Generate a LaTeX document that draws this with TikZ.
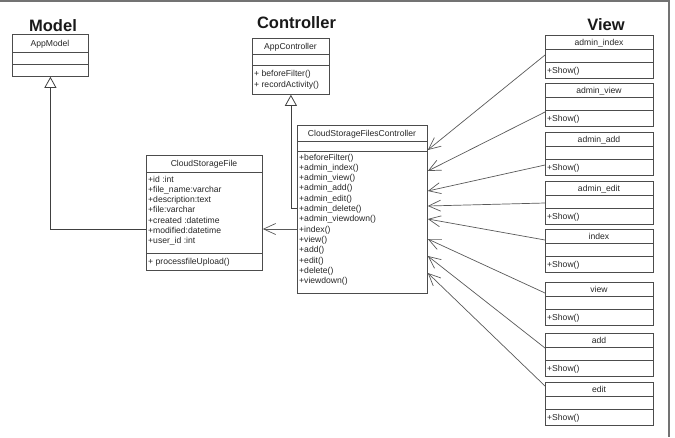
\documentclass[tikz,border=0pt]{standalone}
\usepackage{fontspec}
\setmainfont{Liberation Sans}
\usetikzlibrary{arrows.meta}

\begin{document}
\begin{tikzpicture}[x=1pt, y=-1pt,
  classbox/.style={draw=black!70, line width=0.8pt, anchor=north west, inner sep=0pt},
  member/.style={inner sep=0pt, anchor=base west, text=black!85, font=\fontsize{8.6}{10.3}\selectfont},
  classname/.style={member, anchor=base},
  layer/.style={inner sep=0pt, anchor=base, text=black!90, font=\fontsize{16.5}{18}\selectfont\bfseries},
  sep/.style={draw=black!70, line width=0.8pt},
  gen/.style={draw=black!75, line width=0.8pt, -{Triangle[open, length=11pt, width=12pt]}},
  assoc/.style={draw=black!65, line width=0.7pt, -{Straight Barb[length=12pt, width=11pt]}}]
\useasboundingbox (0,0) rectangle (675,437);
\draw[black!55, line width=1.4pt] (0,1) -| (669,437);

% layer titles
\node[layer] (tmodel) at (53,31.7) {Model};
\node[layer] (tctrl) at (296.5,28.5) {Controller};
\node[layer] (tview) at (606,30.7) {View};

% model
\node[classbox, minimum width=76pt, minimum height=42pt] (appmodel) at (12,34) {};
\draw[sep] (12,52) -- (88,52);
\draw[sep] (12,64) -- (88,64);
\node[classname] (appmodel-n) at (50,46) {AppModel};

% app controller
\node[classbox, minimum width=77pt, minimum height=56pt] (appctrl) at (252,38) {};
\draw[sep] (252,54) -- (329,54);
\draw[sep] (252,65) -- (329,65);
\node[classname] (appctrl-n) at (290.5,49) {AppController};
\node[member] (appctrl-m1) at (254,76) {+ beforeFilter()};
\node[member] (appctrl-m2) at (254,87) {+ recordActivity()};

% cloud storage file
\node[classbox, minimum width=116pt, minimum height=115pt] (csfile) at (146,155) {};
\draw[sep] (146,172) -- (262,172);
\draw[sep] (146,253) -- (262,253);
\node[classname] (csfile-n) at (204,166) {CloudStorageFile};
\foreach \a [count=\i] in {+id :int, +file\_name:varchar, +description:text, +file:varchar,
    +created :datetime, +modified:datetime, +user\_id :int}
  \node[member] (csfile-a\i) at (148,171.7+10.3*\i) {\a};
\node[member] (csfile-m1) at (148,264) {+ processfileUpload()};

% files controller
\node[classbox, minimum width=130pt, minimum height=168pt] (csfc) at (297,125) {};
\draw[sep] (297,141) -- (427,141);
\draw[sep] (297,151) -- (427,151);
\node[classname] (csfc-n) at (362,136) {CloudStorageFilesController};
\foreach \m [count=\i] in {+beforeFilter(), +admin\_index(), +admin\_view(), +admin\_add(),
    +admin\_edit(), +admin\_delete(), +admin\_viewdown(), +index(), +view(), +add(),
    +edit(), +delete(), +viewdown()}
  \node[member] (csfc-m\i) at (299,149.7+10.3*\i) {\m};

\draw[gen] ([yshift=-74pt]csfile.north west) -| (appmodel.south);
\draw[gen] ([yshift=-83pt]csfc.north west) -| (appctrl.south);
\draw[assoc] ([yshift=-104pt]csfc.north west) -- ([yshift=-74pt]csfile.north east);

% views
\foreach \v/\t/\top/\s/\e in {v1/admin\_index/35/20/25, v2/admin\_view/83/29/46,
    v3/admin\_add/132/33/66, v4/admin\_edit/181/22/81, v5/index/229/11/94,
    v6/view/282/11/114, v7/add/333/15/131, v8/edit/382/4/148} {
  \node[classbox, minimum width=108pt, minimum height=43pt] (\v) at (545,\top) {};
  \draw[sep] (545,\top+14) -- (653,\top+14);
  \draw[sep] (545,\top+27) -- (653,\top+27);
  \node[classname] (\v-n) at (599,\top+10) {\t};
  \node[member] (\v-m1) at (547,\top+38) {+Show()};
  \draw[assoc] ([yshift=-\s pt]\v.north west) -- ([yshift=-\e pt]csfc.north east);
}
\end{tikzpicture}
\end{document}
